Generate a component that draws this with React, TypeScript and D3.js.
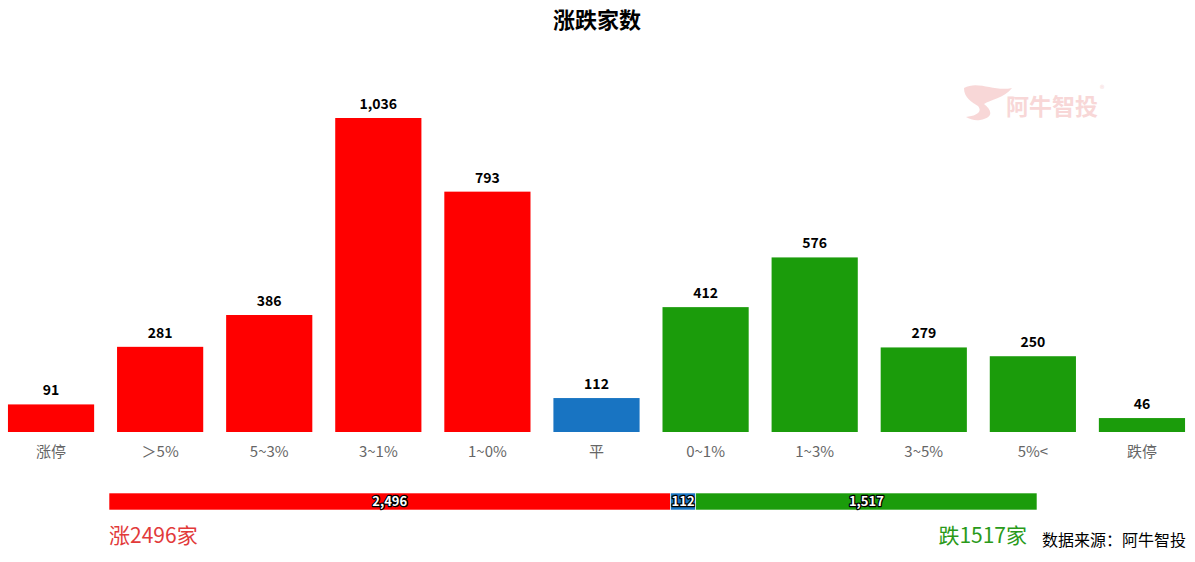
import React from "react";
import * as d3 from "d3";

const categories = ["涨停", "＞5%", "5~3%", "3~1%", "1~0%", "平", "0~1%", "1~3%", "3~5%", "5%<", "跌停"];
const values = [91, 281, 386, 1036, 793, 112, 412, 576, 279, 250, 46];
const groups = ["up", "up", "up", "up", "up", "flat", "down", "down", "down", "down", "down"];
const summaryKeys = ["up", "flat", "down"];
const summaryValues = [2496, 112, 1517];

const COLORS: Record<string, string> = { up: "#ff0000", flat: "#1874c2", down: "#1b9c0b" };
const W = 1195;
const H = 562;
const FONT = "'Noto Sans CJK SC', 'Noto Sans', sans-serif";

export default function App() {
  const x = d3.scaleBand<string>().domain(categories).range([-3.5, 1196.5]).paddingInner(0.21).paddingOuter(0.105);
  const y = d3.scaleLinear().domain([0, 1036]).range([432, 118]);
  const total = d3.sum(summaryValues);
  const sx = d3.scaleLinear().domain([0, total]).range([109, 1037]);
  const cum = d3.cumsum(summaryValues);
  const starts = summaryValues.map((v, i) => cum[i] - v);
  const fmt = d3.format(",");

  return (
    <svg width={W} height={H} style={{ position: "absolute", left: 0, top: 0, background: "#fff" }} fontFamily={FONT}>
      <text x={597} y={28} textAnchor="middle" fontSize={22} fontWeight="bold" fill="#000">涨跌家数</text>

      {/* watermark */}
      <g opacity={0.5}>
        <path d="M964,88 C978,80 994,92 1012,88 C1004,98 990,100 984,104 C992,110 994,118 980,120 C975,121 970,119 966,117 C976,116 983,112 978,106 C972,102 964,98 964,88 Z" fill="#f2b0b0" />
        <text x={1006} y={115} fontSize={23} fontWeight="bold" fill="#f2b0b0">阿牛智投</text>
        <text x={1100} y={92} fontSize={9} fill="#f2b0b0">®</text>
      </g>

      {categories.map((c, i) => {
        const bx = x(c)!;
        const bw = x.bandwidth();
        const yt = y(values[i]);
        return (
          <g key={c}>
            <rect x={bx} y={yt} width={bw} height={y(0) - yt} fill={COLORS[groups[i]]} />
            <text x={bx + bw / 2} y={yt - 9} textAnchor="middle" fontSize={14} fontWeight="bold" fill="#000">{fmt(values[i])}</text>
            <text x={bx + bw / 2} y={457} textAnchor="middle" fontSize={15} fill="#666">{c}</text>
          </g>
        );
      })}

      {summaryKeys.map((k, i) => {
        const x0 = sx(starts[i]);
        const x1 = sx(starts[i] + summaryValues[i]);
        return (
          <g key={k}>
            <rect x={x0} y={493} width={x1 - x0} height={17} fill={COLORS[k]} stroke="#fff" strokeWidth={0.6} />
            <text x={(x0 + x1) / 2} y={506} textAnchor="middle" fontSize={13} fontWeight="bold" fill="#fff" stroke="#000" strokeWidth={2.5} paintOrder="stroke" strokeLinejoin="round">{fmt(summaryValues[i])}</text>
          </g>
        );
      })}

      <text x={109} y={543} fontSize={21} fill="#e23a3a">涨{summaryValues[0]}家</text>
      <text x={1027} y={543} textAnchor="end" fontSize={21} fill="#2a9a1a">跌{summaryValues[2]}家</text>
      <text x={1186} y={546} textAnchor="end" fontSize={16} fill="#000">数据来源：阿牛智投</text>
    </svg>
  );
}
